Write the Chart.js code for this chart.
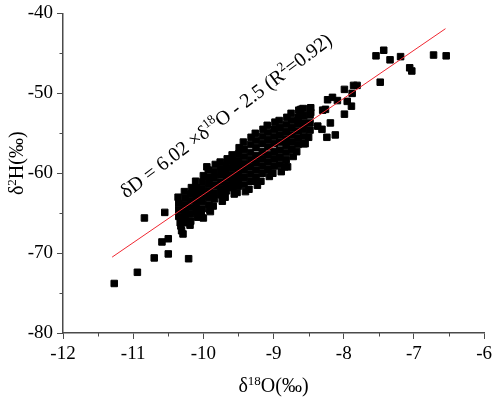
<!DOCTYPE html>
<html>
<head>
<meta charset="utf-8">
<script src="https://cdn.jsdelivr.net/npm/chart.js@4/dist/chart.umd.min.js"></script>
<style>
  html,body{margin:0;padding:0;background:#fff;}
  #c{display:block;}
</style>
</head>
<body>
<canvas id="c" width="498" height="399"></canvas>
<script>
// ---- data ----
// dense band (δ18O, δ2H), one line per narrow δ18O column
const bandO18 = [
  -10.36,-10.35,-10.35,-10.35,-10.33,
  -10.27,-10.26,-10.26,-10.26,-10.26,-10.24,
  -10.17,-10.18,-10.18,-10.18,-10.18,-10.20,
  -10.11,-10.10,-10.10,-10.10,-10.10,-10.10,-10.08,
  -10.00,-10.01,-10.01,-10.01,-10.01,-10.01,-10.03,
  -9.93,-9.92,-9.92,-9.92,-9.92,-9.92,-9.90,
  -9.83,-9.84,-9.84,-9.84,-9.84,-9.84,-9.86,
  -9.76,-9.75,-9.75,-9.75,-9.75,-9.75,-9.73,
  -9.66,-9.67,-9.67,-9.67,-9.67,-9.67,-9.69,
  -9.59,-9.58,-9.58,-9.58,-9.58,-9.58,-9.56,
  -9.49,-9.50,-9.50,-9.50,-9.50,-9.50,-9.50,-9.52,
  -9.43,-9.42,-9.42,-9.42,-9.42,-9.42,-9.42,-9.40,
  -9.32,-9.33,-9.33,-9.33,-9.33,-9.33,-9.33,-9.35,
  -9.26,-9.25,-9.25,-9.25,-9.25,-9.25,-9.25,-9.23,
  -9.15,-9.16,-9.16,-9.16,-9.16,-9.16,-9.16,-9.18,
  -9.09,-9.08,-9.08,-9.08,-9.08,-9.08,-9.08,-9.06,
  -8.98,-8.99,-8.99,-8.99,-8.99,-8.99,-8.99,-9.01,
  -8.92,-8.91,-8.91,-8.91,-8.91,-8.91,-8.91,-8.89,
  -8.81,-8.82,-8.82,-8.82,-8.82,-8.82,-8.82,-8.84,
  -8.75,-8.74,-8.74,-8.74,-8.74,-8.74,-8.72,
  -8.64,-8.65,-8.65,-8.65,-8.65,-8.65,-8.67,
  -8.58,-8.57,-8.57,-8.57,-8.57,-8.55,
  -8.47,-8.48,-8.48,-8.48,-8.50
];
const bandH2 = [
  -63.0,-63.8,-64.6,-65.4,-66.2,
  -62.3,-63.1,-63.9,-64.7,-65.5,-66.2,
  -61.8,-62.6,-63.4,-64.3,-65.1,-66.0,
  -61.0,-61.8,-62.5,-63.3,-64.0,-64.8,-65.5,
  -60.3,-61.1,-61.9,-62.7,-63.5,-64.4,-65.2,
  -59.6,-60.5,-61.3,-62.2,-63.0,-63.9,-64.8,
  -58.9,-59.8,-60.6,-61.5,-62.4,-63.2,-64.1,
  -58.6,-59.4,-60.2,-61.1,-61.9,-62.7,-63.5,
  -58.2,-59.0,-59.8,-60.6,-61.4,-62.2,-63.0,
  -57.7,-58.5,-59.3,-60.2,-61.0,-61.8,-62.6,
  -56.8,-57.6,-58.4,-59.2,-60.0,-60.8,-61.6,-62.4,
  -56.1,-57.0,-57.9,-58.8,-59.6,-60.5,-61.4,-62.3,
  -55.5,-56.4,-57.4,-58.3,-59.2,-60.1,-61.0,-62.0,
  -55.0,-55.9,-56.8,-57.8,-58.7,-59.6,-60.5,-61.5,
  -54.5,-55.4,-56.3,-57.3,-58.2,-59.1,-60.0,-61.0,
  -54.0,-54.9,-55.8,-56.7,-57.7,-58.6,-59.5,-60.4,
  -53.6,-54.5,-55.4,-56.3,-57.3,-58.2,-59.1,-60.0,
  -53.4,-54.3,-55.2,-56.1,-57.1,-58.0,-58.9,-59.8,
  -53.0,-53.9,-54.8,-55.7,-56.5,-57.4,-58.3,-59.2,
  -52.5,-53.4,-54.3,-55.2,-56.1,-57.0,-57.9,
  -52.1,-53.0,-53.8,-54.7,-55.6,-56.4,-57.3,
  -51.9,-52.8,-53.7,-54.5,-55.4,-56.3,
  -51.8,-52.7,-53.7,-54.6,-55.5
];
// scattered points
const looseO18 = [
  -11.27,-10.94,-10.84,-10.55,-10.70,-10.59,-10.50,-10.50,-10.21,-10.32,-10.31,-10.29,
  -10.19,-10.18,-10.00,-9.91,-9.95,-9.25,-9.03,-8.80,
  -7.54,-7.43,-7.34,-7.19,-7.06,-7.03,-6.72,-6.54,-7.48,
  -7.99,-7.86,-7.81,-7.88,-7.89,-7.99,-7.95,
  -8.12,-8.24,-8.57,-8.37,-8.31,-8.19,-8.23,-8.16,-8.09,-8.26,-8.30,
  -8.61,-8.47,-8.48,-8.62
];
const looseH2 = [
  -73.8,-72.4,-65.6,-64.9,-70.6,-68.6,-68.2,-70.1,-70.7,-66.6,-67.2,-67.6,
  -66.5,-66.0,-65.6,-64.6,-59.2,-61.0,-60.0,-59.2,
  -45.3,-44.6,-45.8,-45.4,-46.8,-47.2,-45.2,-45.3,-48.6,
  -49.5,-49.0,-49.0,-50.0,-51.6,-52.6,-51.0,
  -55.2,-55.5,-56.3,-54.1,-54.5,-53.7,-50.8,-50.5,-50.9,-52.0,-52.1,
  -52.0,-52.4,-51.9,-52.6
];
// fitted line end points
const fitO18 = [-11.3, -6.55];
const fitH2 = [-70.5, -41.9];
// axis ticks
const xTicks = [-12,-11,-10,-9,-8,-7,-6];
const yTicks = [-80,-70,-60,-50,-40];
const xMinor = [-11.5,-10.5,-9.5,-8.5,-7.5,-6.5];
const yMinor = [-75,-65,-55,-45];
// texts
const eqText = [
  {t:'\u03b4D = 6.02 \u00d7\u03b4', sup:false},
  {t:'18', sup:true},
  {t:'O - 2.5 (R', sup:false},
  {t:'2', sup:true},
  {t:'=0.92)', sup:false}
];
const eqAnchor = {x:-11.1, y:-63.2};
const xTitle = [{t:'\u03b4',sup:false},{t:'18',sup:true},{t:'O(\u2030)',sup:false}];
const yTitle = [{t:'\u03b4',sup:false},{t:'2',sup:true},{t:'H(\u2030)',sup:false}];

// ---- build ----
const points = [];
for (let i = 0; i < bandO18.length; i++) points.push({x: bandO18[i], y: bandH2[i]});
for (let i = 0; i < looseO18.length; i++) points.push({x: looseO18[i], y: looseH2[i]});
const fitPts = fitO18.map((x, i) => ({x, y: fitH2[i]}));

const FONT = "'Liberation Serif', 'DejaVu Serif', serif";
const AXIS = '#4a4a4a';

function measureRich(ctx, parts, size, supSize) {
  let w = 0;
  parts.forEach(p => {
    ctx.font = (p.sup ? supSize : size) + 'px ' + FONT;
    w += ctx.measureText(p.t).width;
  });
  return w;
}
function renderRich(ctx, parts, x, y, size, supSize, supRise) {
  let cx = x;
  parts.forEach(p => {
    ctx.font = (p.sup ? supSize : size) + 'px ' + FONT;
    ctx.fillText(p.t, cx, p.sup ? y - supRise : y);
    cx += ctx.measureText(p.t).width;
  });
}

const extras = {
  id: 'extras',
  afterDraw(chart) {
    const ctx = chart.ctx;
    const xs = chart.scales.x, ys = chart.scales.y;
    const ca = chart.chartArea;
    ctx.save();
    // minor ticks
    ctx.strokeStyle = AXIS;
    ctx.lineWidth = 1;
    ctx.beginPath();
    xMinor.forEach(v => {
      const px = Math.round(xs.getPixelForValue(v)) + 0.5;
      ctx.moveTo(px, ca.bottom); ctx.lineTo(px, ca.bottom + 3.5);
    });
    yMinor.forEach(v => {
      const py = Math.round(ys.getPixelForValue(v)) + 0.5;
      ctx.moveTo(ca.left, py); ctx.lineTo(ca.left - 3.5, py);
    });
    ctx.stroke();

    ctx.fillStyle = '#000';
    ctx.textBaseline = 'alphabetic';
    ctx.textAlign = 'left';
    // x title
    const wx = measureRich(ctx, xTitle, 20, 13);
    renderRich(ctx, xTitle, (ca.left + ca.right) / 2 - wx / 2, 392, 20, 13, 7);
    // y title
    const wy = measureRich(ctx, yTitle, 20, 13);
    ctx.save();
    ctx.translate(23, (ca.top + ca.bottom) / 2 - 10);
    ctx.rotate(-Math.PI / 2);
    renderRich(ctx, yTitle, -wy / 2, 0, 20, 13, 7);
    ctx.restore();
    // equation
    ctx.save();
    ctx.translate(xs.getPixelForValue(eqAnchor.x), ys.getPixelForValue(eqAnchor.y));
    ctx.rotate(-37 * Math.PI / 180);
    renderRich(ctx, eqText, 0, 0, 20, 13, 8);
    ctx.restore();
    ctx.restore();
  }
};

const tickFont = {family: FONT, size: 19, lineHeight: 1};

new Chart(document.getElementById('c'), {
  type: 'scatter',
  data: {
    datasets: [
      {
        type: 'line',
        data: fitPts,
        borderColor: 'rgb(240,40,50)',
        borderWidth: 1,
        pointRadius: 0,
        fill: false,
        order: 0
      },
      {
        data: points,
        pointStyle: 'rect',
        pointRadius: 4.6,
        pointHoverRadius: 4.6,
        backgroundColor: '#000',
        borderColor: '#000',
        borderWidth: 1,
        order: 1
      }
    ]
  },
  options: {
    responsive: false,
    animation: false,
    devicePixelRatio: 1,
    layout: {padding: {top: 10, right: 10, left: 0, bottom: 0}},
    plugins: {legend: {display: false}, tooltip: {enabled: false}},
    scales: {
      x: {
        type: 'linear',
        min: -12, max: -6,
        afterBuildTicks(s) { s.ticks = xTicks.map(v => ({value: v})); },
        ticks: {font: tickFont, color: '#000', padding: 6, maxRotation: 0,
                callback: v => String(v)},
        grid: {drawOnChartArea: false, drawTicks: true, tickLength: 6, tickColor: AXIS, tickWidth: 1},
        border: {color: AXIS, width: 1.5},
        afterFit(s) { s.height = 66; }
      },
      y: {
        type: 'linear',
        min: -80, max: -40,
        afterBuildTicks(s) { s.ticks = yTicks.map(v => ({value: v})); },
        ticks: {font: tickFont, color: '#000', padding: 4,
                callback: v => String(v)},
        grid: {drawOnChartArea: false, drawTicks: true, tickLength: 6, tickColor: AXIS, tickWidth: 1},
        border: {color: AXIS, width: 1.5},
        afterFit(s) { s.width = 63; }
      }
    }
  },
  plugins: [extras]
});
</script>
</body>
</html>
